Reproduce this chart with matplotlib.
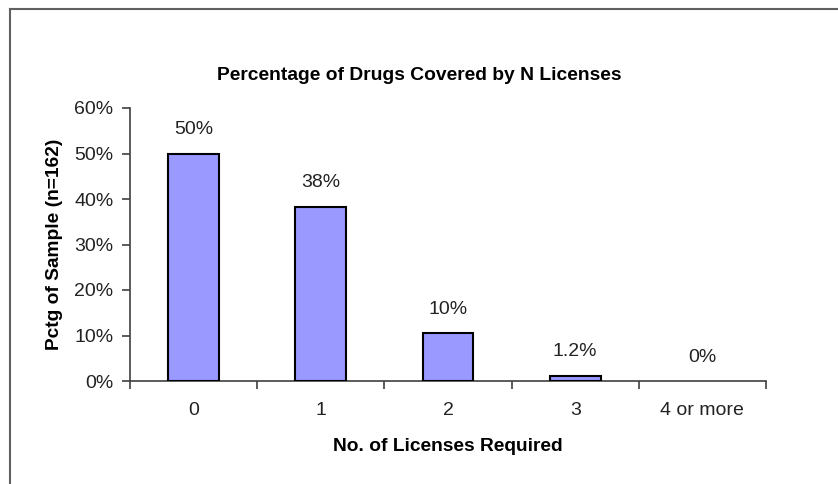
import matplotlib.pyplot as plt
import matplotlib.lines as mlines
import numpy as np

# Data (n=162)
categories = ['0', '1', '2', '3', '4 or more']
pct = [50.0, 38.3, 10.5, 1.2, 0.0]
bar_labels = ['50%', '38%', '10%', '1.2%', '0%']
yticks = [0, 10, 20, 30, 40, 50, 60]

plt.rcParams['font.family'] = ['Liberation Sans', 'DejaVu Sans']

figureWidth = 8.38
figureHeight = 4.84
fig = plt.figure(figsize=(figureWidth, figureHeight), dpi=100)

# frame around the chart area (like the Excel chart border)
fig.add_artist(mlines.Line2D([10/838, 10/838], [0, 1 - 9/484], color='#606060', lw=1.5))
fig.add_artist(mlines.Line2D([10/838, 1], [1 - 9/484, 1 - 9/484], color='#606060', lw=1.5))

ax = fig.add_axes([130/838, 103/484, 636/838, 273/484])

x = np.arange(len(categories))
# zero-height bars get no outline (nothing visible in the original)
edge_w = [1.5 if v > 0 else 0 for v in pct]
ax.bar(x, pct, width=0.4, color='#9999FF', edgecolor='black', linewidth=edge_w, zorder=3)

for xi, v, lab in zip(x, pct, bar_labels):
    ax.annotate(lab, (xi, v), xytext=(0, 11), textcoords='offset points',
                ha='center', va='bottom', fontsize=14, color='#222222')

ax.set_xlim(-0.5, len(categories) - 0.5)
ax.set_ylim(0, 60)

ax.set_yticks(yticks)
ax.set_yticklabels([f'{t}%' for t in yticks])
ax.tick_params(axis='y', length=6, width=1.2, color='#404040', pad=6, labelsize=14,
               labelcolor='#222222')

ax.set_xticks(x)
ax.set_xticklabels(categories)
ax.set_xticks(np.arange(-0.5, len(categories)), minor=True)
ax.tick_params(axis='x', which='major', length=0, pad=15, labelsize=14, labelcolor='#222222')
ax.tick_params(axis='x', which='minor', length=6, width=1.2, color='#404040', direction='out')

for s in ['top', 'right']:
    ax.spines[s].set_visible(False)
for s in ['left', 'bottom']:
    ax.spines[s].set_color('#404040')
    ax.spines[s].set_linewidth(1.2)

fig.text(419.5/838, 1 - 75/484, 'Percentage of Drugs Covered by N Licenses',
         ha='center', va='center', fontsize=13.9, fontweight='bold')
ax.set_xlabel('No. of Licenses Required', fontsize=13.8, fontweight='bold', labelpad=14)
ax.set_ylabel('Pctg of Sample (n=162)', fontsize=13.8, fontweight='bold', labelpad=8)

plt.savefig('out.png', dpi=100)
